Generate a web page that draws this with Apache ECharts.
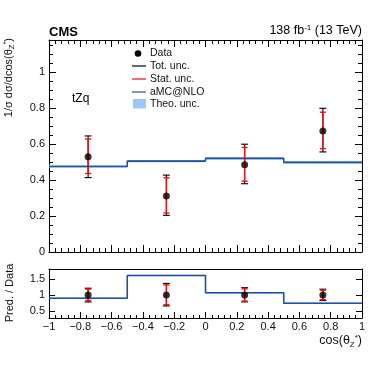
<!DOCTYPE html>
<html>
<head>
<meta charset="utf-8">
<script src="https://cdn.jsdelivr.net/npm/echarts@6/dist/echarts.min.js"></script>
<style>html,body{margin:0;padding:0;background:#fff}#c{width:374px;height:367px}</style>
</head>
<body>
<div id="c"></div>
<script>
// ---- data ----
const binEdges = [-1, -0.5, 0, 0.5, 1];
const binCenters = [-0.75, -0.25, 0.25, 0.75];
const dataValues = [0.530, 0.312, 0.486, 0.674];
const totLow = [0.414, 0.204, 0.380, 0.557];
const totHigh = [0.646, 0.428, 0.600, 0.800];
const statLow = [0.437, 0.217, 0.394, 0.575];
const statHigh = [0.629, 0.413, 0.582, 0.778];
const predValues = [0.476, 0.506, 0.521, 0.499];
const theoHalfWidth = [0.003, 0.003, 0.003, 0.003];
const mainYTicks = [0, 0.2, 0.4, 0.6, 0.8, 1];
const ratioYTicks = [0.5, 1, 1.5];

// derived ratio panel values
const ratioPred = predValues.map((p, i) => p / dataValues[i]);
const ratioTotLow = totLow.map((v, i) => v / dataValues[i]);
const ratioTotHigh = totHigh.map((v, i) => v / dataValues[i]);
const ratioStatLow = statLow.map((v, i) => v / dataValues[i]);
const ratioStatHigh = statHigh.map((v, i) => v / dataValues[i]);

const FONT = '"Liberation Sans", Arial, Helvetica, sans-serif';
const BLUE = '#1f4fa3';
const LIGHTBLUE = '#9cc8f5';

function stepData(vals) {
  const d = [];
  for (let i = 0; i < binEdges.length; i++) {
    d.push([binEdges[i], vals[Math.min(i, vals.length - 1)]]);
  }
  return d;
}

function errBars(lows, highs, color, width, capHalf, xi, yi) {
  return {
    type: 'custom', xAxisIndex: xi, yAxisIndex: yi, z: 5,
    data: binCenters.map((x, i) => [x, lows[i], highs[i]]),
    renderItem: function (params, api) {
      const lo = api.coord([api.value(0), api.value(1)]);
      const hi = api.coord([api.value(0), api.value(2)]);
      const st = { stroke: color, lineWidth: width };
      return {
        type: 'group',
        children: [
          { type: 'line', shape: { x1: lo[0], y1: lo[1], x2: hi[0], y2: hi[1] }, style: st },
          { type: 'line', shape: { x1: lo[0] - capHalf, y1: lo[1], x2: lo[0] + capHalf, y2: lo[1] }, style: st },
          { type: 'line', shape: { x1: hi[0] - capHalf, y1: hi[1], x2: hi[0] + capHalf, y2: hi[1] }, style: st }
        ]
      };
    }
  };
}

function bandSeries(vals, xi, yi) {
  return {
    type: 'custom', xAxisIndex: xi, yAxisIndex: yi, z: 2,
    data: vals.map((v, i) => [binEdges[i], binEdges[i + 1], v - theoHalfWidth[i], v + theoHalfWidth[i]]),
    renderItem: function (params, api) {
      const a = api.coord([api.value(0), api.value(3)]);
      const b = api.coord([api.value(1), api.value(2)]);
      return { type: 'rect', shape: { x: a[0], y: a[1] - 0.6, width: b[0] - a[0], height: b[1] - a[1] + 1.2 }, style: { fill: LIGHTBLUE } };
    }
  };
}

const axisLine = { show: true, onZero: false, lineStyle: { color: '#000', width: 1 } };
function xAx(gi, pos, labels, tickLen, minorLen, showTicks) {
  return {
    type: 'value', gridIndex: gi, position: pos, min: -1, max: 1, interval: 0.2,
    axisLine: axisLine,
    axisTick: { show: showTicks, inside: true, length: tickLen, lineStyle: { color: '#000' } },
    minorTick: { show: showTicks, splitNumber: 5, length: minorLen, lineStyle: { color: '#000' } },
    splitLine: { show: false },
    axisLabel: {
      show: labels, color: '#111', fontSize: 11, fontFamily: FONT, margin: 3,
      formatter: v => (Math.round(v * 10) / 10).toString().replace('-', '\u2212')
    }
  };
}

const chart = echarts.init(document.getElementById('c'), null, { renderer: 'canvas' });
chart.setOption({
  animation: false,
  backgroundColor: '#fff',
  grid: [
    { left: 49, right: 12, top: 40, height: 212 },
    { left: 49, right: 12, top: 269, height: 49 }
  ],
  xAxis: [
    xAx(0, 'bottom', false, 7, 4, true),
    xAx(0, 'top', false, 7, 4, true),
    xAx(1, 'bottom', true, 6, 3, true),
    xAx(1, 'top', false, 6, 3, false)
  ],
  yAxis: [
    {
      type: 'value', gridIndex: 0, position: 'left', min: 0, max: 1.18, interval: 0.2,
      axisLine: axisLine,
      axisTick: { inside: true, length: 7, lineStyle: { color: '#000' } },
      minorTick: { show: true, splitNumber: 4, length: 4, lineStyle: { color: '#000' } },
      splitLine: { show: false },
      axisLabel: {
        color: '#111', fontSize: 11, fontFamily: FONT, margin: 4,
        customValues: mainYTicks
      }
    },
    {
      type: 'value', gridIndex: 0, position: 'right', min: 0, max: 1.18, interval: 0.2,
      axisLine: axisLine,
      axisTick: { inside: true, length: 7, lineStyle: { color: '#000' } },
      minorTick: { show: true, splitNumber: 4, length: 4, lineStyle: { color: '#000' } },
      splitLine: { show: false },
      axisLabel: { show: false }
    },
    {
      type: 'value', gridIndex: 1, position: 'left', min: 0.27, max: 1.83,
      axisLine: axisLine,
      axisTick: { inside: true, length: 6, customValues: ratioYTicks, lineStyle: { color: '#000' } },
      splitLine: { show: false },
      axisLabel: { color: '#111', fontSize: 11, fontFamily: FONT, margin: 4, customValues: ratioYTicks }
    },
    {
      type: 'value', gridIndex: 1, position: 'right', min: 0.27, max: 1.83,
      axisLine: axisLine,
      axisTick: { inside: true, length: 6, customValues: ratioYTicks, lineStyle: { color: '#000' } },
      splitLine: { show: false },
      axisLabel: { show: false }
    }
  ],
  series: [
    bandSeries(predValues, 0, 0),
    {
      type: 'line', xAxisIndex: 0, yAxisIndex: 0, step: 'end', z: 3,
      data: stepData(predValues), symbol: 'none', lineStyle: { color: BLUE, width: 1.6 }
    },
    errBars(totLow, totHigh, '#000', 1.1, 3.5, 0, 0),
    errBars(statLow, statHigh, '#ee1111', 1.4, 3, 0, 0),
    {
      type: 'scatter', xAxisIndex: 0, yAxisIndex: 0, z: 6,
      data: binCenters.map((x, i) => [x, dataValues[i]]),
      symbol: 'circle', symbolSize: 7, itemStyle: { color: '#000' }
    },
    bandSeries(ratioPred, 2, 2),
    {
      type: 'line', xAxisIndex: 2, yAxisIndex: 2, step: 'end', z: 3,
      data: stepData(ratioPred), symbol: 'none', lineStyle: { color: BLUE, width: 1.6 }
    },
    errBars(ratioTotLow, ratioTotHigh, '#000', 1.1, 3.5, 2, 2),
    errBars(ratioStatLow, ratioStatHigh, '#ee1111', 1.4, 3, 2, 2),
    {
      type: 'scatter', xAxisIndex: 2, yAxisIndex: 2, z: 6,
      data: binCenters.map(x => [x, 1]),
      symbol: 'circle', symbolSize: 7, itemStyle: { color: '#000' }
    }
  ],
  graphic: [
    { type: 'text', left: 49, top: 26, style: { text: 'CMS', font: 'bold 13px ' + FONT, fill: '#000' } },
    {
      type: 'text', right: 12, top: 24,
      style: {
        text: '138 fb{s|-1} (13 TeV)', font: '12.5px ' + FONT, fill: '#000',
        rich: { s: { fontSize: 8, fontFamily: FONT, verticalAlign: 'top', padding: [0, 0, 6, 0] } }
      }
    },
    // y title main
    {
      type: 'text', x: 9, y: 38, rotation: Math.PI / 2,
      style: {
        text: '1/\u03c3 d\u03c3/dcos(\u03b8{b|Z}{t|*})', font: '11px ' + FONT, fill: '#111',
        align: 'right', verticalAlign: 'middle',
        rich: {
          b: { fontSize: 7.5, fontFamily: FONT, padding: [6, 0, 0, 0] },
          t: { fontSize: 7.5, fontFamily: FONT, padding: [0, 0, 6, 0] }
        }
      }
    },
    // y title ratio
    {
      type: 'text', x: 10, y: 293, rotation: Math.PI / 2,
      style: { text: 'Pred. / Data', font: '11px ' + FONT, fill: '#111', align: 'center', verticalAlign: 'middle' }
    },
    // x title
    {
      type: 'text', right: 12, top: 334,
      style: {
        text: 'cos(\u03b8{b|Z}{t|*})', font: '12.5px ' + FONT, fill: '#111',
        rich: {
          b: { fontSize: 8, fontFamily: FONT, padding: [7, 0, 0, 0] },
          t: { fontSize: 8, fontFamily: FONT, padding: [0, 0, 6, 0] }
        }
      }
    },
    { type: 'text', left: 72, top: 93, style: { text: 'tZq', font: '12px ' + FONT, fill: '#000' } },
    // legend
    { type: 'circle', shape: { cx: 138, cy: 53.5, r: 3.3 }, style: { fill: '#000' } },
    { type: 'text', x: 150, y: 53.5, style: { text: 'Data', font: '10.5px ' + FONT, fill: '#111', verticalAlign: 'middle' } },
    { type: 'line', shape: { x1: 132, y1: 66, x2: 146, y2: 66 }, style: { stroke: '#000', lineWidth: 1.2 } },
    { type: 'text', x: 150, y: 66, style: { text: 'Tot. unc.', font: '10.5px ' + FONT, fill: '#111', verticalAlign: 'middle' } },
    { type: 'line', shape: { x1: 132, y1: 79, x2: 146, y2: 79 }, style: { stroke: '#ee1111', lineWidth: 1.2 } },
    { type: 'text', x: 150, y: 79, style: { text: 'Stat. unc.', font: '10.5px ' + FONT, fill: '#111', verticalAlign: 'middle' } },
    { type: 'line', shape: { x1: 132, y1: 92, x2: 146, y2: 92 }, style: { stroke: BLUE, lineWidth: 1.2 } },
    { type: 'text', x: 150, y: 92, style: { text: 'aMC@NLO', font: '10.5px ' + FONT, fill: '#111', verticalAlign: 'middle' } },
    { type: 'rect', shape: { x: 133, y: 99, width: 13, height: 9.5 }, style: { fill: LIGHTBLUE } },
    { type: 'text', x: 150, y: 104.5, style: { text: 'Theo. unc.', font: '10.5px ' + FONT, fill: '#111', verticalAlign: 'middle' } }
  ]
});
</script>
</body>
</html>
